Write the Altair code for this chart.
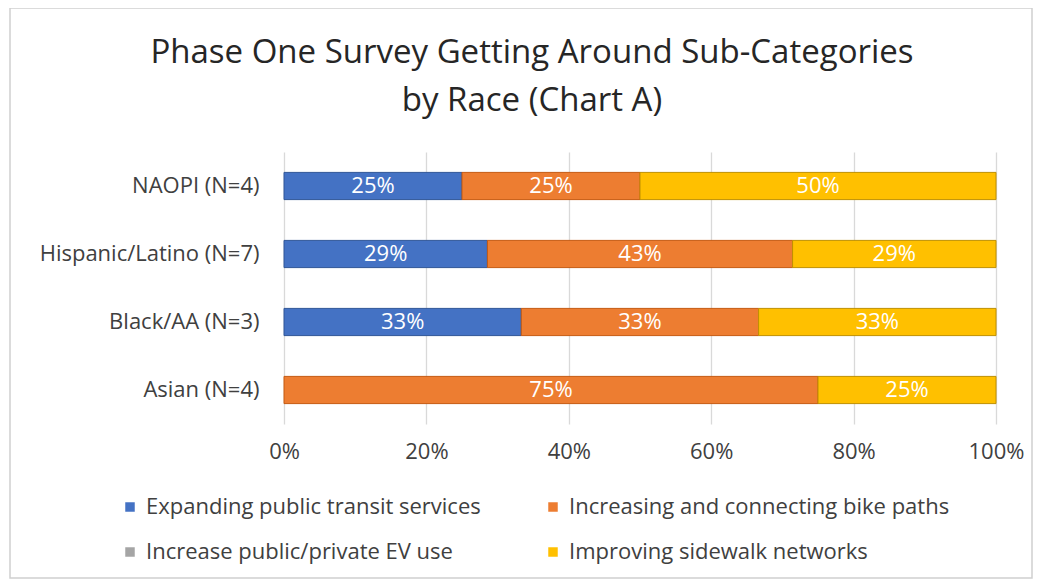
import altair as alt
import pandas as pd

races = ["NAOPI (N=4)", "Hispanic/Latino (N=7)", "Black/AA (N=3)", "Asian (N=4)"]
categories = [
    "Expanding public transit services",
    "Increasing and connecting bike paths",
    "Increase public/private EV use",
    "Improving sidewalk networks",
]
transit = [0.25, 0.2857, 0.3333, 0.0]
bike = [0.25, 0.4286, 0.3333, 0.75]
ev = [0.0, 0.0, 0.0, 0.0]
sidewalk = [0.50, 0.2857, 0.3334, 0.25]
fill_colors = ["#4472C4", "#ED7D31", "#A5A5A5", "#FFC000"]
edge_colors = ["#2F5597", "#C55A11", "#7F7F7F", "#BF9000"]
x_ticks = [0, 0.2, 0.4, 0.6, 0.8, 1.0]

series = [transit, bike, ev, sidewalk]
rows = []
for ci, (cat, vals) in enumerate(zip(categories, series)):
    for r, v in zip(races, vals):
        rows.append({"race": r, "cat": cat, "order": ci, "value": v})
df = pd.DataFrame(rows)

FONT = "Open Sans"
TXT = "#404040"
FS = 22

base = (
    alt.Chart(df)
    .transform_filter("datum.value > 0")
    .transform_stack(stack="value", groupby=["race"], sort=[alt.SortField("order")], as_=["x0", "x1"])
    .transform_calculate(mid="(datum.x0 + datum.x1) / 2")
)

yenc = alt.Y(
    "race:N",
    sort=races,
    scale=alt.Scale(paddingInner=0.6, paddingOuter=0.3),
    axis=alt.Axis(title=None, domain=False, ticks=False, labelPadding=25, labelLimit=400,
                  labelFontSize=FS, labelColor=TXT, labelFont=FONT),
)

bars = base.mark_bar(strokeWidth=1).encode(
    x=alt.X(
        "x0:Q",
        scale=alt.Scale(domain=[0, 1], nice=False),
        axis=alt.Axis(title=None, format=".0%", values=x_ticks, domain=False, ticks=False,
                      grid=True, gridColor="#D9D9D9", gridWidth=1.3, labelPadding=17,
                      labelFlush=False,
                      labelFontSize=FS, labelColor=TXT, labelFont=FONT),
    ),
    x2="x1:Q",
    y=yenc,
    fill=alt.Fill(
        "cat:N",
        scale=alt.Scale(domain=categories, range=fill_colors),
        legend=alt.Legend(
            title=None, orient="none", legendX=-165, legendY=344, direction="horizontal",
            columns=2, columnPadding=61, rowPadding=23, symbolType="square", symbolSize=90,
            labelFontSize=FS, labelColor=TXT, labelFont=FONT, labelOffset=5, padding=0,
            labelLimit=500, symbolStrokeWidth=0,
        ),
    ),
    stroke=alt.Stroke("cat:N", scale=alt.Scale(domain=categories, range=edge_colors), legend=None),
)

labels = base.mark_text(color="white", fontSize=FS, font=FONT, baseline="middle").encode(
    x="mid:Q",
    y=alt.Y("race:N", sort=races),
    text=alt.Text("value:Q", format=".0%"),
)

frame = alt.Chart(pd.DataFrame({"a": [0]})).mark_rect(
    fill=None, stroke="#D0D0D0", strokeWidth=1.5
).encode(
    x=alt.value(-274), x2=alt.value(748), y=alt.value(-144), y2=alt.value(426)
)

chart = (
    alt.layer(frame, bars, labels)
    .properties(
        width=712,
        height=272,
        padding={"left": 276, "top": 144, "right": 38, "bottom": 156},
        autosize=alt.AutoSizeParams(type="none"),
        title=alt.TitleParams(
            text=["Phase One Survey Getting Around Sub-Categories", "by Race (Chart A)"],
            fontSize=33, font=FONT, fontWeight="normal", color="#262626",
            lineHeight=48, anchor="middle", frame="group", dx=-108, offset=-111,
        ),
    )
    .configure_view(stroke=None)
)

chart.save("out.html", embed_options={"renderer": "svg", "actions": False})
